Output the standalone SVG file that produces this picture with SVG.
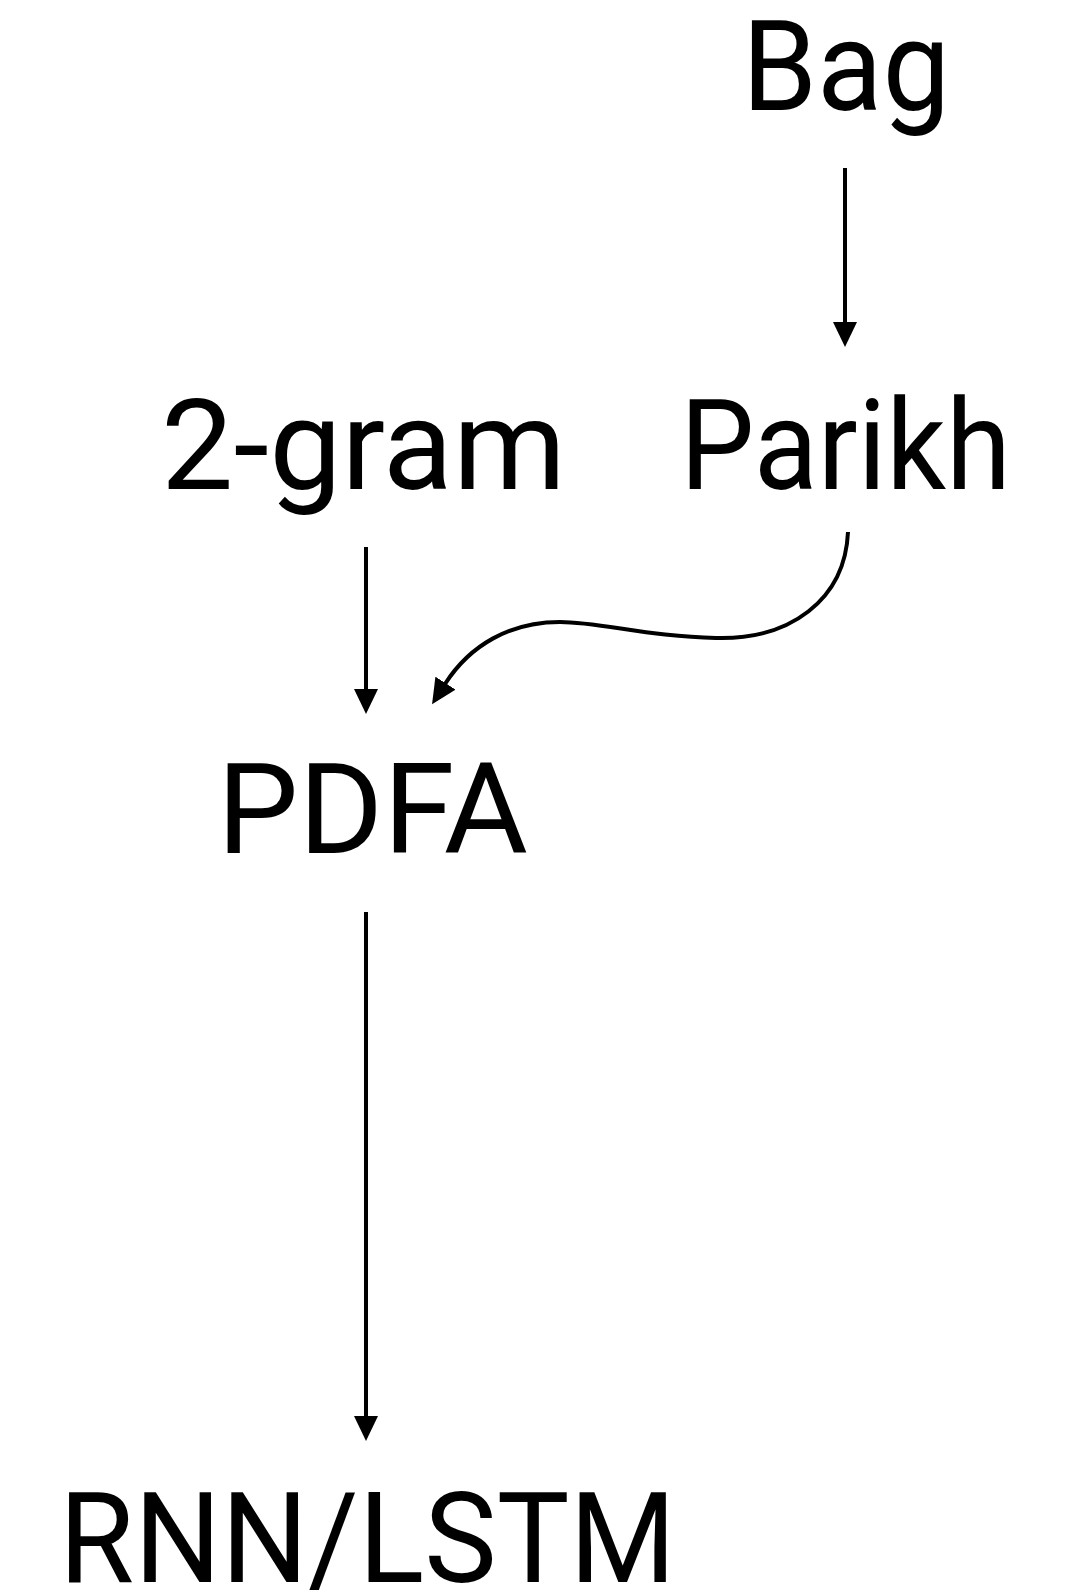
<svg xmlns="http://www.w3.org/2000/svg" width="1077" height="1594" viewBox="0 0 1077 1594">
<style>
.lbl{font-family:Roboto,Lato,"Liberation Sans",sans-serif;font-size:126px;fill:#000}
.edge{fill:none;stroke:#000;stroke-width:4}
</style>
<defs>
<marker id="ah" markerUnits="userSpaceOnUse" viewBox="0 0 25 24" markerWidth="25" markerHeight="24" refX="1" refY="12" orient="auto">
<path d="M0,0 L25,12 L0,24 z" fill="#000"/>
</marker>
</defs>
<rect width="1077" height="1594" fill="#fff"/>
<g id="bag"><text class="lbl" x="742" y="110" textLength="208" lengthAdjust="spacingAndGlyphs">Bag</text></g>
<g id="twogram"><text class="lbl" x="161" y="489" textLength="405" lengthAdjust="spacingAndGlyphs">2-gram</text></g>
<g id="parikh"><text class="lbl" x="680" y="489" textLength="331" lengthAdjust="spacingAndGlyphs">Parikh</text></g>
<g id="pdfa"><text class="lbl" x="217" y="853" textLength="311" lengthAdjust="spacingAndGlyphs">PDFA</text></g>
<g id="rnn"><text class="lbl" x="59" y="1582" textLength="617" lengthAdjust="spacingAndGlyphs">RNN/LSTM</text></g>
<g id="connectors">
<path class="edge" d="M845,168 L845,323" marker-end="url(#ah)"/>
<path class="edge" d="M366,547 L366,690" marker-end="url(#ah)"/>
<path class="edge" d="M848,532 C845,600 790,640 716,638 C650,637 600,622 560,622 C510,622 470,645 445,684" marker-end="url(#ah)"/>
<path class="edge" d="M366,912 L366,1417" marker-end="url(#ah)"/>
</g>
</svg>
